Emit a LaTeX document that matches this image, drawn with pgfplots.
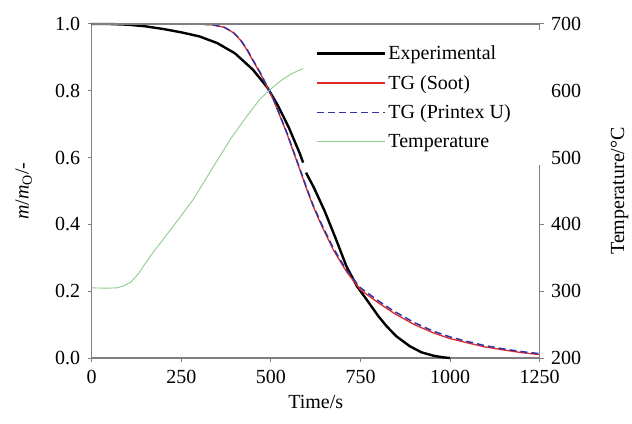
\documentclass[border=0pt]{standalone}
\usepackage{fontspec}
\setmainfont{Liberation Serif}
\usepackage{pgfplots}
\pgfplotsset{compat=1.18}
\definecolor{cRed}{RGB}{225,40,40}
\definecolor{cBlue}{RGB}{50,50,165}
\definecolor{cGreen}{RGB}{140,205,140}
\definecolor{cAxis}{RGB}{128,128,128}
\pgfplotsset{
  every axis/.append style={
    font=\fontsize{20}{24}\selectfont,
    scale only axis, width=448pt, height=334pt,
    xmin=0, xmax=1250,
    tick align=outside,
    major tick length=4pt,
    tick style={cAxis, line width=1pt},
    axis line style={cAxis, line width=1.2pt, -},
    /pgf/number format/assume math mode=true,
    /pgf/number format/1000 sep={},
  },
}
\begin{document}
\begin{tikzpicture}
\begin{axis}[
  name=ax,
  axis x line*=bottom, axis y line*=left,
  ymin=0, ymax=1,
  xtick={0,250,500,750,1000,1250},
  ytick={0,0.2,0.4,0.6,0.8,1.0},
  yticklabel style={/pgf/number format/fixed, /pgf/number format/precision=1, /pgf/number format/fixed zerofill, xshift=-4pt},
  xticklabel style={yshift=-5pt},
  xlabel={Time/s},
  ylabel={\textit{m}/\textit{m}\textsubscript{O}/-},
  xlabel style={at={([yshift=-44pt]axis description cs:0.5,0)}, anchor=center},
  ylabel style={at={([xshift=-68pt]axis description cs:0,0.5)}, anchor=center},
  unbounded coords=jump,
  clip=false,
]
\addplot[black, line width=2.4pt] coordinates {
(0,1.0) (50,1.0) (100,0.998) (150,0.993) (200,0.985) (250,0.975) (300,0.963) (350,0.943) (400,0.912) (450,0.863) (490,0.81) (520,0.755) (550,0.69) (580,0.614) (590,0.585) (592,nan) (598,0.555) (620,0.51) (650,0.44) (680,0.36) (711,0.274) (740,0.215) (767,0.175) (800,0.125) (823,0.095) (850,0.065) (888,0.035) (920,0.017) (953,0.007) (980,0.002) (1000,0.0)};
\addplot[cRed, line width=1.3pt] coordinates {
(0,1.0) (300,1.0) (340,0.997) (370,0.99) (395,0.974) (415,0.952) (433,0.923) (450,0.89) (470,0.853) (490,0.81) (507,0.773) (525,0.725) (544,0.674) (562,0.62) (581,0.563) (600,0.505) (618,0.454) (640,0.4) (674,0.324) (710,0.26) (749,0.205) (800,0.165) (842,0.135) (900,0.1) (954,0.075) (1000,0.058) (1050,0.045) (1093,0.034) (1150,0.024) (1200,0.016) (1250,0.01)};
\addplot[cBlue, line width=1.5pt, dash pattern=on 7pt off 4pt] coordinates {
(0,1.0) (300,1.0) (340,0.997) (370,0.99) (395,0.975) (415,0.953) (433,0.925) (450,0.892) (470,0.855) (490,0.812) (507,0.775) (525,0.727) (544,0.676) (562,0.622) (581,0.566) (600,0.508) (618,0.457) (640,0.404) (674,0.329) (710,0.265) (749,0.211) (800,0.171) (842,0.141) (900,0.106) (954,0.08) (1000,0.063) (1050,0.049) (1093,0.038) (1150,0.027) (1200,0.019) (1250,0.013)};
\end{axis}
\begin{axis}[
  axis x line*=top, axis y line*=right,
  xtick=\empty,
  ymin=200, ymax=700,
  ytick={200,300,400,500,600,700},
  yticklabel style={xshift=4pt},
  ylabel={Temperature/\textdegree C},
  ylabel style={at={([xshift=80pt]axis description cs:1,0.5)}, anchor=center},
]
\addplot[cGreen, line width=0.9pt] coordinates {
(0,305) (40,304.5) (70,305) (90,308) (110,314) (130,326) (150,342) (170,357) (200,378) (241,407) (283,437) (340,487) (390,530) (433,562) (470,588) (507,606) (530,616) (553,624) (575,630) (590,633)};
\end{axis}
\begin{axis}[
  hide axis,
  ymin=0, ymax=1,
  legend style={at={(0.487,0.983)}, anchor=north west, draw=none, fill=white, fill opacity=1, text opacity=1,
    font=\fontsize{20}{24}\selectfont, row sep=10pt, inner xsep=6pt, inner ysep=14pt},
  legend cell align=left,
  legend image code/.code={\draw[#1] (0pt,0pt) -- (57pt,0pt); \path (0pt,0pt) -- (68pt,0pt);},
]
\addlegendimage{black, line width=2.4pt}
\addlegendentry{Experimental}
\addlegendimage{cRed, line width=1.3pt}
\addlegendentry{TG (Soot)}
\addlegendimage{cBlue, line width=1.5pt, dash pattern=on 7pt off 4pt}
\addlegendentry{\makebox[148pt][l]{TG (Printex U)}}
\addlegendimage{cGreen, line width=0.9pt}
\addlegendentry{Temperature}
\end{axis}
\path (ax.south west) ++(-91.7pt,-65.7pt) coordinate (bbA);
\path (ax.north east) ++(92.3pt,24pt) coordinate (bbB);
\path (bbA) rectangle (bbB);
\end{tikzpicture}
\end{document}
